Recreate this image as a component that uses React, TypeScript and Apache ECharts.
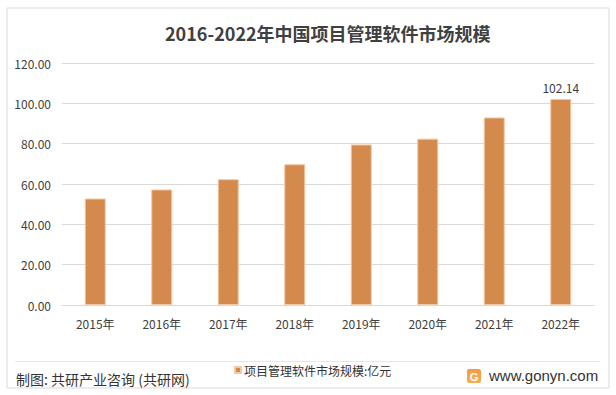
import React, { useEffect, useRef } from "react";
import * as echarts from "echarts";

const categories = ["2015年", "2016年", "2017年", "2018年", "2019年", "2020年", "2021年", "2022年"];
const marketSize = [52.8, 57.3, 62.4, 69.8, 79.6, 82.5, 93.0, 102.14];
const seriesName = "项目管理软件市场规模:亿元";
const titleText = "2016-2022年中国项目管理软件市场规模";
const sourceText = "制图: 共研产业咨询 (共研网)";
const siteText = "www.gonyn.com";

export default function App() {
  const ref = useRef<HTMLDivElement>(null);
  useEffect(() => {
    if (!ref.current) return;
    const chart = echarts.init(ref.current, null, { renderer: "svg" });
    const font = "'Microsoft YaHei', 'Noto Sans CJK SC', sans-serif";
    chart.setOption({
      animation: false,
      backgroundColor: "#ffffff",
      textStyle: { fontFamily: font },
      title: {
        text: titleText,
        left: 160,
        top: 19,
        textStyle: { fontSize: 18, fontWeight: "bold", color: "#404040", fontFamily: font },
      },
      grid: { left: 62, right: 22, top: 63, bottom: 90 },
      legend: {
        data: [seriesName],
        left: 234,
        top: 364,
        padding: 0,
        icon: "rect",
        itemWidth: 6,
        itemHeight: 6,
        textStyle: { fontSize: 12, color: "#333333", padding: [0, 0, 0, -2] },
      },
      xAxis: {
        type: "category",
        data: categories,
        axisLine: { lineStyle: { color: "#d9d9d9" } },
        axisTick: { show: false },
        axisLabel: { color: "#404040", fontSize: 12, margin: 12 },
      },
      yAxis: {
        type: "value",
        min: 0,
        max: 120,
        interval: 20,
        axisLine: { show: false },
        axisTick: { show: false },
        splitLine: { lineStyle: { color: "#d9d9d9" } },
        axisLabel: {
          color: "#404040",
          fontSize: 12,
          margin: 11,
          formatter: (v: number) => v.toFixed(2),
        },
      },
      series: [
        {
          name: seriesName,
          type: "bar",
          data: marketSize.map((v, i) =>
            i === marketSize.length - 1
              ? { value: v, label: { show: true, position: "top", distance: 6, color: "#404040", fontSize: 12, formatter: (p: any) => p.value.toFixed(2) } }
              : v
          ),
          barWidth: 21,
          itemStyle: { color: "#D48A4C", borderColor: "#F2C9A5", borderWidth: 1 },
        },
      ],
      graphic: [
        {
          type: "rect",
          shape: { x: 7, y: 8, width: 602, height: 380 },
          style: { fill: "none", stroke: "#d9d9d9", lineWidth: 1 },
          silent: true,
        },
        {
          type: "line",
          shape: { x1: 15, y1: 361.5, x2: 600, y2: 361.5 },
          style: { stroke: "#e6e6e6", lineWidth: 1 },
        },
        {
          type: "text",
          x: 16,
          y: 372,
          style: { text: sourceText, fontSize: 14, fill: "#333333", fontFamily: font },
        },
        {
          type: "rect",
          shape: { x: 467, y: 369, width: 14, height: 14, r: 2 },
          style: {
            fill: new echarts.graphic.LinearGradient(0, 0, 0, 1, [
              { offset: 0, color: "#F59A4A" },
              { offset: 1, color: "#F0B04A" },
            ]),
          },
        },
        {
          type: "text",
          x: 474,
          y: 376.5,
          style: { text: "G", fontSize: 11, fontWeight: "bold", fill: "#ffffff", align: "center", verticalAlign: "middle", fontFamily: "Arial, sans-serif" },
        },
        {
          type: "text",
          x: 489,
          y: 368,
          style: { text: siteText, fontSize: 15, fill: "#333333", fontFamily: "Arial, 'Liberation Sans', sans-serif" },
        },
      ],
    });
    return () => chart.dispose();
  }, []);
  return <div ref={ref} style={{ position: "fixed", left: 0, top: 0, width: 616, height: 395 }} />;
}
